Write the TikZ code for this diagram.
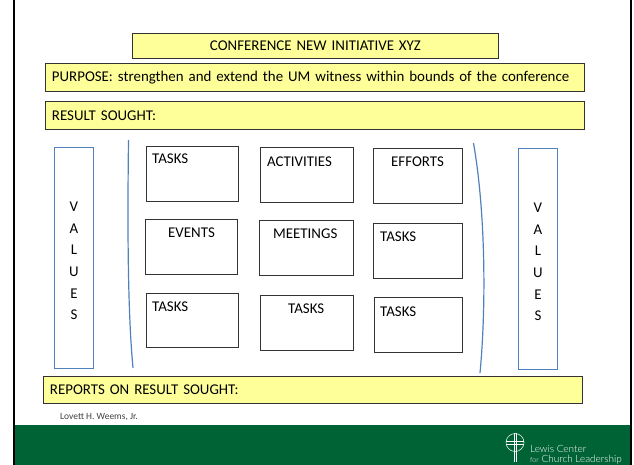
\documentclass[tikz,border=0pt]{standalone}
\usepackage{fontspec}
\setmainfont{Carlito}
\newfontfamily\logofont{Lato Light}
\usepackage{tikz}
\usetikzlibrary{positioning}
\definecolor{barYellow}{HTML}{FFFF99}
\definecolor{bandGreen}{HTML}{006336}
\definecolor{valueBlue}{HTML}{4F81BD}
\tikzset{bar/.style={draw=black!80,line width=0.9pt,fill=barYellow,anchor=north west,inner xsep=6.5pt,inner ysep=0pt,align=left,font=\fontsize{14.9}{16}\selectfont}}
\tikzset{taskbox/.style={draw=black!80,line width=0.9pt,anchor=north west,minimum width=92pt,minimum height=55pt,inner sep=0pt}}
\tikzset{boxtext/.style={inner sep=0pt,font=\fontsize{14.9}{16}\selectfont}}
\tikzset{valuebox/.style={draw=valueBlue,line width=1.4pt,anchor=north west,minimum width=38.5pt,minimum height=221pt,inner sep=0pt}}
\tikzset{valuetext/.style={inner sep=0pt,align=center,font=\fontsize{14.9}{21.6}\selectfont}}
\tikzset{brace/.style={draw=valueBlue,line width=1.2pt}}

\begin{document}
\begin{tikzpicture}[x=1pt,y=-1pt]
        \useasboundingbox (0,0) rectangle (634,465);
        % side rules and footer band
        \fill[bandGreen] (14,425) rectangle (630,465);
        \fill[black] (13,0) rectangle (15,465);
        \fill[black] (630,0) rectangle (632,465);
        % header bars
        \node[bar,text width=353pt,minimum height=25pt,align=center] (title) at (132,33) {CONFERENCE NEW INITIATIVE XYZ};
        \node[bar,text width=526pt,minimum height=28pt] (purpose) at (45,63) {PURPOSE: strengthen and extend the UM witness within bounds of the conference};
        \node[bar,text width=526pt,minimum height=28pt] (result) at (45,101) {RESULT SOUGHT:};
        \node[bar,text width=526pt,minimum height=27pt] (reports) at (43,376) {REPORTS ON RESULT SOUGHT:};
        % values columns
        \node[valuebox] (valuesleft) at (54,147) {};
        \node[valuetext,below=55pt of valuesleft.north] (lettersleft) {V\\A\\L\\U\\E\\S};
        \node[valuebox] (valuesright) at (518,148) {};
        \node[valuetext,below=55pt of valuesright.north] (lettersright) {V\\A\\L\\U\\E\\S};
        % brackets
        \coordinate (bracelefttop) at (128.5,140);
        \coordinate (braceleftbot) at (133,368);
        \coordinate (bracerighttop) at (473.5,143);
        \coordinate (bracerightbot) at (480,373);
        \draw[brace] (bracelefttop) .. controls (127.5,220) and (127.5,310) .. (braceleftbot);
        \draw[brace] (bracerighttop) .. controls (486,215) and (486,310) .. (bracerightbot);
        % first row
        \node[taskbox] (tasksa) at (146,146) {};
        \node[boxtext,below right=8pt and 6pt of tasksa.north west] (tasksatext) {TASKS};
        \node[taskbox,minimum width=93pt] (activities) at (260,147) {};
        \node[boxtext,below right=10pt and 7pt of activities.north west] (activitiestext) {ACTIVITIES};
        \node[taskbox,minimum width=89pt] (efforts) at (373,148) {};
        \node[boxtext,below right=9pt and 18pt of efforts.north west] (effortstext) {EFFORTS};
        % second row
        \node[taskbox] (events) at (145,219) {};
        \node[boxtext,below right=9pt and 23pt of events.north west] (eventstext) {EVENTS};
        \node[taskbox,minimum width=94pt] (meetings) at (259,219.5) {};
        \node[boxtext,below right=9.5pt and 14pt of meetings.north west] (meetingstext) {MEETINGS};
        \node[taskbox,minimum width=89pt] (tasksb) at (373,223) {};
        \node[boxtext,below right=9pt and 7pt of tasksb.north west] (tasksbtext) {TASKS};
        % third row
        \node[taskbox,minimum height=54pt] (tasksc) at (146,293) {};
        \node[boxtext,below right=9pt and 6pt of tasksc.north west] (tasksctext) {TASKS};
        \node[taskbox,minimum width=93pt] (tasksd) at (260,295) {};
        \node[boxtext,below right=9pt and 28pt of tasksd.north west] (tasksdtext) {TASKS};
        \node[taskbox,minimum width=88pt] (taskse) at (374,297) {};
        \node[boxtext,below right=10pt and 6pt of taskse.north west] (tasksetext) {TASKS};
        % footer
        \node[inner sep=0pt,anchor=west,text=black!75,font=\fontsize{9.5}{10}\selectfont] (credit) at (60,417) {Lovett H. Weems, Jr.};
        \node[circle,draw=white,line width=0.5pt,minimum size=18pt,inner sep=0pt] (seal) at (515,442.5) {};
        \coordinate (crossbot) at (515,462);
        \draw[white,line width=0.5pt] ([xshift=-1.2pt]seal.north) -- ([xshift=-1.2pt]crossbot);
        \draw[white,line width=0.5pt] ([xshift=1.2pt]seal.north) -- ([xshift=1.2pt]crossbot);
        \draw[white,line width=0.5pt] ([yshift=-1.5pt]seal.west) -- ([yshift=-1.5pt]seal.east);
        \draw[white,line width=0.5pt] ([yshift=0.8pt]seal.west) -- ([yshift=0.8pt]seal.east);
        \node[inner sep=0pt,anchor=north west,align=left,text=white,font=\logofont\fontsize{10}{10}\selectfont] (logo) at (530,445.5) {Lewis Center\\{\fontsize{7}{10}\selectfont for} Church Leadership};
\end{tikzpicture}
\end{document}
